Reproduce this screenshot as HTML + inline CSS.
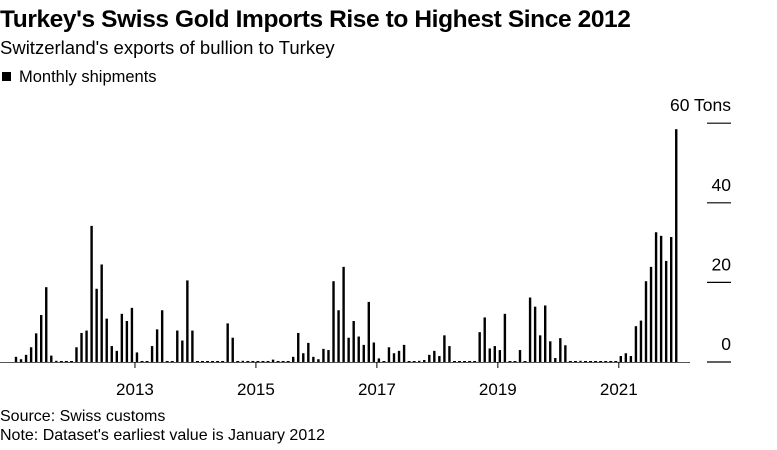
<!DOCTYPE html>
<html><head><meta charset="utf-8"><style>
body{margin:0;background:#fff;width:777px;height:445px;overflow:hidden;font-family:"Liberation Sans",Arial,sans-serif;color:#000}
</style></head><body>
<svg id="chart" width="777" height="445" xmlns="http://www.w3.org/2000/svg" font-family="Liberation Sans, Arial, sans-serif">
<text x="0" y="27" font-size="24.5" font-weight="bold" letter-spacing="-0.4">Turkey's Swiss Gold Imports Rise to Highest Since 2012</text>
<text x="0" y="54" font-size="18.5">Switzerland's exports of bullion to Turkey</text>
<rect x="2" y="72" width="9" height="9" fill="#000"/>
<text x="19" y="82" font-size="16.5">Monthly shipments</text>
<g id="grid"></g>
<g id="bars"></g>
<g id="xaxis"></g>
<text x="0" y="421" font-size="16">Source: Swiss customs</text>
<text x="0" y="440" font-size="16">Note: Dataset's earliest value is January 2012</text>
</svg>
<script>
const months = Array.from({length:132},(_,i)=>i);
const tons = [1.3,0.7,1.8,3.7,7.2,11.8,18.8,1.6,0.3,0,0,0,3.7,7.3,7.9,34.2,18.4,24.5,10.9,4,2.8,12.1,10.3,13.6,2.4,0,0,4,8.2,13,0,0,7.9,5.4,20.5,7.9,0,0,0,0,0,0,9.7,6.1,0,0.3,0,0,
0,0,0,0.6,0,0,0,1.3,7.3,2.2,4.8,1.3,0.7,3.3,3,20.3,13,23.9,6.1,10.3,6.4,4.3,15.1,4.9,0.9,0,3.7,2.2,2.8,4.3,0,0,0.3,0.5,1.8,2.8,1.5,6.7,4,0,0,0,0,0,
7.5,11.2,3.4,4,3,12.1,0,0,3,0,16.2,13.9,6.7,14.2,5.2,1,6,4.2,0,0,0.3,0,0,0,0,0,0,0,1.5,2.2,1.5,9,10.4,20.3,23.9,32.6,31.7,25.4,31.4,58.5];
const yTicks = [0,20,40,60];
const yTickLabels = ["0","20","40","60 Tons"];
const xTickMonths = [24,48,72,96,120];
const xTickLabels = ["2013","2015","2017","2019","2021"];
const NS="http://www.w3.org/2000/svg";
const x = i => 16 + i*5.04;
const y = v => 362 - v*3.98;
function mk(tag, attrs, parent){const e=document.createElementNS(NS,tag);for(const k in attrs)e.setAttribute(k,attrs[k]);document.getElementById(parent).appendChild(e);return e;}
yTicks.forEach((t,k)=>{
  const l=mk('line',{x1:707,x2:731,y1:y(t),y2:y(t),stroke:'#000','stroke-width':1.2},'grid');
  
  
  const tx=mk('text',{x:731,y:y(t)-12,'text-anchor':'end','font-size':17.5},'grid');
  tx.textContent=yTickLabels[k];
  
  
});
const base=mk('line',{x1:0,x2:690,y1:362.5,y2:362.5,stroke:'#555','stroke-width':1},'xaxis');


months.forEach((m,i)=>{
  const v=tons[i]||0;
  let r;
  if(v<=0){ r=mk('rect',{x:x(m)-1.5,y:361,width:3,height:2,fill:'#000'},'bars'); }
  else { r=mk('rect',{x:x(m)-1.2,y:y(v),width:2.4,height:362-y(v),fill:'#000'},'bars'); }
  
  
});
xTickMonths.forEach((m,k)=>{
  const xt=x(m)-2;
  const l=mk('line',{x1:xt,x2:xt,y1:362,y2:368,stroke:'#000','stroke-width':1},'xaxis');
  
  
  const tx=mk('text',{x:xt,y:395,'text-anchor':'middle','font-size':17},'xaxis');
  tx.textContent=xTickLabels[k];
  
  
});
</script>
</body></html>
